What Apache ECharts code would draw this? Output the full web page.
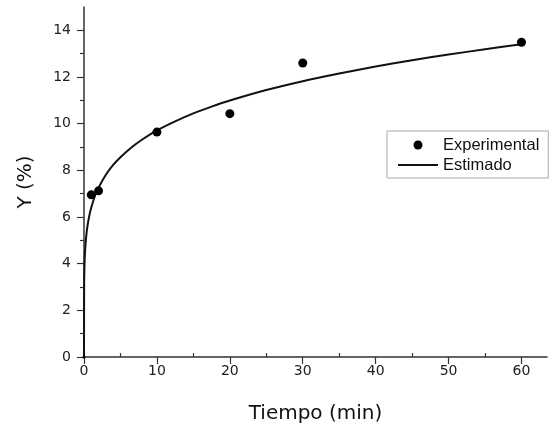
<!DOCTYPE html>
<html>
<head>
<meta charset="utf-8">
<script src="https://cdn.jsdelivr.net/npm/echarts@6/dist/echarts.min.js"></script>
<style>html,body{margin:0;padding:0;background:#fff}#c{width:555px;height:429px}</style>
</head>
<body>
<div id="c"></div>
<script>
// Experimental points (Tiempo in min, Y in %)
const expTime = [0, 1, 2, 10, 20, 30, 60];
const expY = [0, 6.95, 7.12, 9.64, 10.43, 12.6, 13.49];
// Estimated curve
const estTime = [0, 0.02, 0.05, 0.1, 0.2, 0.35, 0.5, 0.75, 1, 1.5, 2, 3, 4, 5, 6.5, 8, 10, 12.5, 15, 17.5, 20, 25, 30, 35, 40, 45, 50, 55, 60];
const estY = [0, 3.17, 3.74, 4.23, 4.8, 5.31, 5.66, 6.09, 6.41, 6.9, 7.26, 7.81, 8.23, 8.56, 8.98, 9.32, 9.71, 10.1, 10.44, 10.73, 10.99, 11.44, 11.82, 12.15, 12.45, 12.72, 12.96, 13.19, 13.4];
// Tick values
const xTicks = [0, 10, 20, 30, 40, 50, 60];
const xMinorTicks = [5, 15, 25, 35, 45, 55];
const yTicks = [0, 2, 4, 6, 8, 10, 12, 14];
const yMinorTicks = [1, 3, 5, 7, 9, 11, 13];

const axisColor = '#333';
const font = 'DejaVu Sans';

const chart = echarts.init(document.getElementById('c'), null, {renderer: 'canvas'});
const baseX = {
  type: 'value', min: 0, max: 63.5,
  splitLine: {show: false},
  axisLine: {show: true, lineStyle: {color: axisColor, width: 1.5}}
};
const baseY = {
  type: 'value', min: 0, max: 15,
  splitLine: {show: false},
  axisLine: {show: true, lineStyle: {color: axisColor, width: 1.5}}
};
chart.setOption({
  animation: false,
  backgroundColor: '#fff',
  grid: {left: 84, right: 8, top: 7, bottom: 72, outerBoundsMode: 'none'},
  xAxis: [
    Object.assign({}, baseX, {
      name: 'Tiempo (min)', nameLocation: 'middle', nameGap: 47,
      nameTextStyle: {fontFamily: font, fontSize: 20, color: '#111'},
      axisTick: {show: true, length: 7, customValues: xTicks, lineStyle: {color: axisColor, width: 1.2}},
      axisLabel: {customValues: xTicks, margin: 7, fontFamily: font, fontSize: 14, color: '#222'}
    }),
    Object.assign({}, baseX, {
      axisLine: {show: false},
      axisTick: {show: true, length: 4, customValues: xMinorTicks, lineStyle: {color: axisColor, width: 1.2}},
      axisLabel: {show: false}
    })
  ],
  yAxis: [
    Object.assign({}, baseY, {
      name: 'Y (%)', nameLocation: 'middle', nameGap: 48, nameRotate: 90,
      nameTextStyle: {fontFamily: font, fontSize: 20, color: '#111'},
      axisTick: {show: true, length: 7, customValues: yTicks, lineStyle: {color: axisColor, width: 1.2}},
      axisLabel: {customValues: yTicks, margin: 13, fontFamily: font, fontSize: 14, color: '#222'}
    }),
    Object.assign({}, baseY, {
      position: 'left',
      axisLine: {show: false},
      axisTick: {show: true, length: 4, customValues: yMinorTicks, lineStyle: {color: axisColor, width: 1.2}},
      axisLabel: {show: false}
    })
  ],
  legend: {
    left: 387, top: 131,
    orient: 'vertical',
    backgroundColor: '#fff',
    borderColor: '#aaa', borderWidth: 1, borderRadius: 0,
    padding: [5, 9, 4, 10],
    itemWidth: 40, itemHeight: 9, itemGap: 2,
    textStyle: {fontFamily: 'Liberation Sans', fontSize: 16.5, lineHeight: 18, color: '#111'},
    data: [
      {name: 'Experimental', icon: 'circle', itemStyle: {color: '#000', opacity: 1}},
      {name: 'Estimado', itemStyle: {opacity: 0}, lineStyle: {color: '#111', width: 2}}
    ]
  },
  series: [
    {
      name: 'Estimado', type: 'line',
      data: estTime.map((t, i) => [t, estY[i]]),
      showSymbol: false, symbol: 'none',
      smooth: 0.3,
      lineStyle: {color: '#111', width: 2},
      itemStyle: {color: '#111'},
      z: 2
    },
    {
      name: 'Experimental', type: 'scatter',
      data: expTime.map((t, i) => [t, expY[i]]),
      symbol: 'circle',
      symbolSize: (v) => (v[0] === 0 && v[1] === 0) ? 3 : 9,
      itemStyle: {color: '#000', opacity: 1},
      z: 3
    }
  ]
});
</script>
</body>
</html>
